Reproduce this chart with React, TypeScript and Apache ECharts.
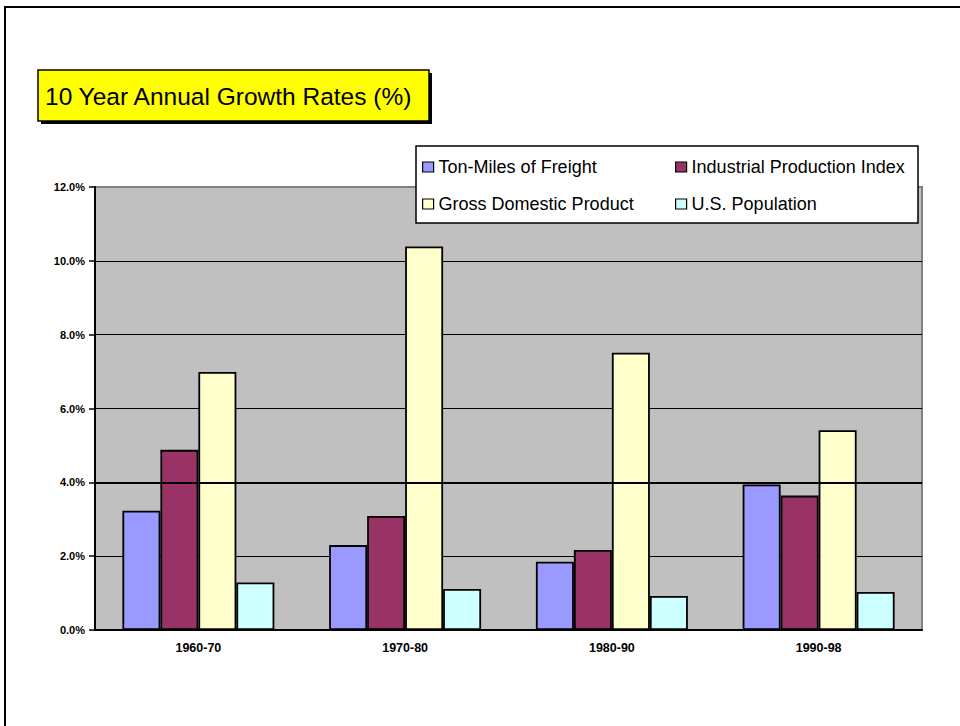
import React, { useEffect, useRef } from "react";
import * as echarts from "echarts";

const decades = ["1960-70", "1970-80", "1980-90", "1990-98"];
const tonMiles = [3.23, 2.3, 1.85, 3.94];
const industrial = [4.88, 3.09, 2.17, 3.64];
const gdp = [6.99, 10.39, 7.51, 5.41];
const population = [1.29, 1.11, 0.92, 1.03];

const seriesNames = [
  "Ton-Miles of Freight",
  "Industrial Production Index",
  "Gross Domestic Product",
  "U.S. Population",
];
const seriesColors = ["#9999FF", "#993366", "#FFFFCC", "#CCFFFF"];
const titleText = "10 Year Annual Growth Rates (%)";

const FONT = "Arial, 'Liberation Sans', sans-serif";

export default function App() {
  const ref = useRef<HTMLDivElement>(null);

  useEffect(() => {
    document.body.style.margin = "0";
    const chart = echarts.init(ref.current!, null, { renderer: "svg" });
    const values = [tonMiles, industrial, gdp, population];

    // two-column legend, one legend component per entry
    const legendPos = [
      { left: 422, top: 158 },
      { left: 675, top: 158 },
      { left: 422, top: 195 },
      { left: 675, top: 195 },
    ];

    chart.setOption({
      animation: false,
      backgroundColor: "#FFFFFF",
      grid: {
        left: 95,
        right: 38,
        top: 187,
        bottom: 96,
        show: true,
        backgroundColor: "#C0C0C0",
        borderColor: "#808080",
        borderWidth: 2,
      },
      legend: seriesNames.map((name, i) => ({
        data: [name],
        left: legendPos[i].left,
        top: legendPos[i].top,
        padding: 0,
        itemWidth: 11,
        itemHeight: 10,
        itemGap: 5,
        icon: "rect",
        selectedMode: false,
        z: 6,
        itemStyle: { borderColor: "#000", borderWidth: 1.2 },
        textStyle: { fontFamily: FONT, fontSize: 18, color: "#000" },
      })),
      xAxis: {
        type: "category",
        data: decades,
        axisLine: { lineStyle: { color: "#000", width: 2 } },
        axisTick: { length: 5, lineStyle: { color: "#000", width: 1.5 } },
        axisLabel: {
          fontFamily: FONT,
          fontSize: 12.5,
          fontWeight: "bold",
          color: "#000",
          margin: 11,
        },
      },
      yAxis: {
        type: "value",
        min: 0,
        max: 12,
        interval: 2,
        axisLine: { show: true, lineStyle: { color: "#000", width: 2 } },
        axisTick: { show: true, length: 6, lineStyle: { color: "#000", width: 1.5 } },
        axisLabel: {
          fontFamily: FONT,
          fontSize: 11,
          fontWeight: "bold",
          color: "#000",
          margin: 10,
          formatter: (v: number) => v.toFixed(1) + "%",
        },
        splitLine: {
          show: true,
          lineStyle: {
            color: ["#000", "#000", "#000", "#000", "#000", "#000", "#808080"],
            width: 1,
          },
        },
      },
      series: seriesNames.map((name, i) => ({
        name,
        type: "bar",
        data: values[i],
        barGap: "0%",
        barCategoryGap: "26.5%",
        itemStyle: {
          color: seriesColors[i],
          borderColor: "#000",
          borderWidth: 1.8,
        },
        emphasis: { disabled: true },
        ...(i === 0
          ? {
              markLine: {
                silent: true,
                symbol: "none",
                label: { show: false },
                lineStyle: { color: "#000", width: 2, type: "solid" },
                data: [{ yAxis: 4 }],
              },
            }
          : {}),
      })),
      graphic: [
        {
          type: "rect",
          z: 0,
          silent: true,
          shape: { x: 5, y: 7, width: 2000, height: 2000 },
          style: { fill: "none", stroke: "#000", lineWidth: 2 },
        },
        {
          type: "rect",
          z: 3,
          silent: true,
          shape: { x: 41, y: 73, width: 391, height: 51 },
          style: { fill: "#000" },
        },
        {
          type: "rect",
          z: 4,
          silent: true,
          shape: { x: 38, y: 70, width: 391, height: 51 },
          style: { fill: "#FFFF00", stroke: "#000", lineWidth: 1.5 },
        },
        {
          type: "text",
          z: 5,
          silent: true,
          x: 45,
          y: 96,
          style: {
            text: titleText,
            fontFamily: FONT,
            fontSize: 24.5,
            fill: "#000",
            verticalAlign: "middle",
            align: "left",
          },
        },
        {
          type: "rect",
          z: 3,
          silent: true,
          shape: { x: 416, y: 146, width: 502, height: 77 },
          style: { fill: "#FFFFFF", stroke: "#000", lineWidth: 1.5 },
        },
      ],
    });

    return () => chart.dispose();
  }, []);

  return <div ref={ref} style={{ width: 960, height: 726 }} />;
}
